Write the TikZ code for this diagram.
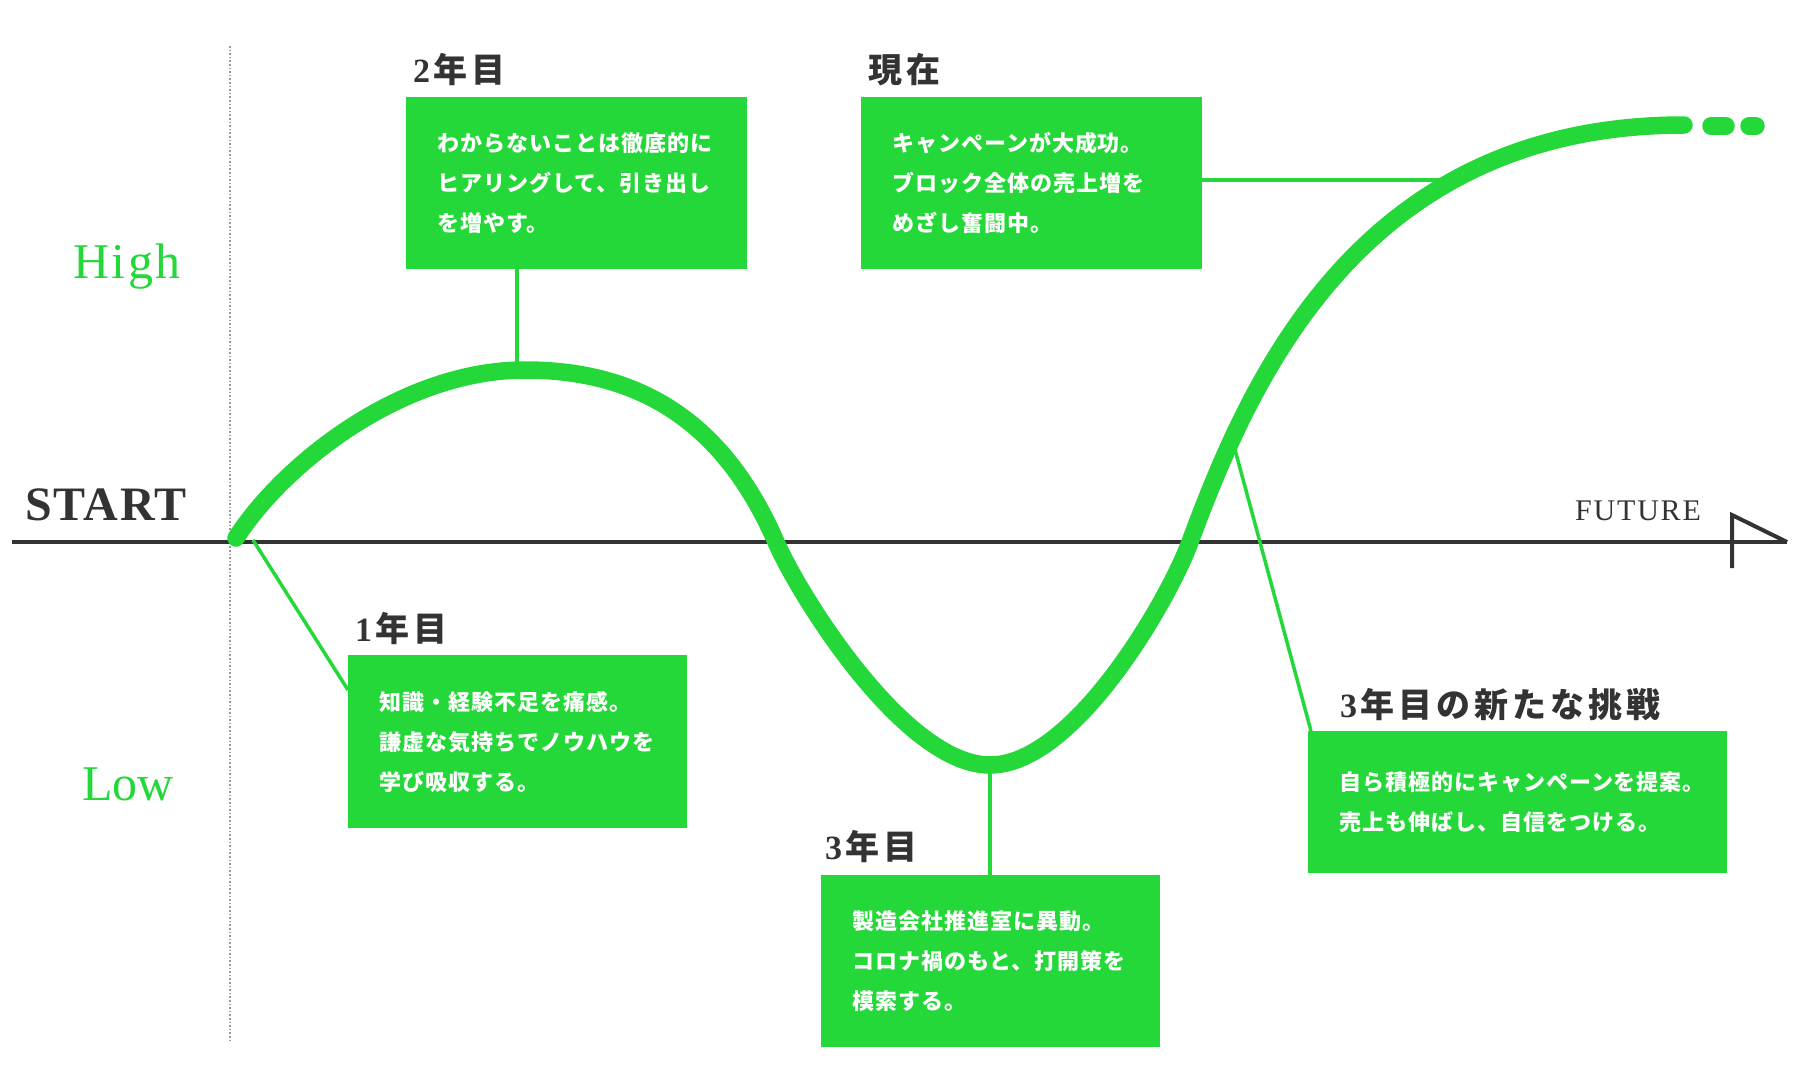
\documentclass[tikz,border=0pt]{standalone}
\usepackage{fontspec}
\usetikzlibrary{calc}
\setmainfont{Liberation Serif}
\newfontfamily\cjkbox[LetterSpace=4.5]{Noto Sans CJK JP}
\newfontfamily\cjklab[LetterSpace=12]{Noto Sans CJK JP}
\definecolor{grn}{RGB}{37,216,58}
\definecolor{ink}{RGB}{51,51,51}
\begin{document}
\begin{tikzpicture}[x=1pt,y=-1pt,
  box/.style={fill=grn, draw=none, anchor=north west, inner xsep=31pt, inner ysep=0pt,
    align=left, text=white, font=\cjkbox\bfseries\fontsize{22}{40}\selectfont},
  lab/.style={anchor=base west, inner sep=0pt, text=ink, font=\cjklab\bfseries\fontsize{34}{34}\selectfont},
  conn/.style={draw=grn, line width=3.5pt},
  curve/.style={draw=grn, line width=17.5pt, line cap=round, line join=round},
  axisline/.style={draw=ink, line width=4pt},
  side/.style={anchor=base west, inner sep=0pt}]
\useasboundingbox (0,0) rectangle (1802,1076);

% dotted start line
\coordinate (dtop) at (230,46);
\coordinate (dbot) at (230,1043);
\draw[gray!80, dotted, line width=1.6pt] (dtop) -- (dbot);

% axis
\coordinate (axL) at (12,542);
\coordinate (axR) at (1787,542);
\coordinate (arB) at (1732,568);
\coordinate (arT) at (1732,515);
\draw[axisline] (axL) -- (axR);
\draw[axisline, line join=miter] (arB) -- (arT) -- (axR);

% side texts
\node[side, text=ink, font=\bfseries\fontsize{48}{48}\selectfont\addfontfeature{LetterSpace=3.5}] (start) at (25,520) {START};
\node[side, text=grn, font=\fontsize{50}{50}\selectfont\addfontfeature{LetterSpace=5}] (high) at (73,278) {High};
\node[side, text=grn, font=\fontsize{50}{50}\selectfont] (low) at (82,800) {Low};
\node[side, text=ink, font=\fontsize{30}{30}\selectfont\addfontfeature{LetterSpace=6}] (future) at (1575,520) {FUTURE};

% boxes
\node[box, text width=279pt, minimum height=172pt] (b2) at (406,97)
  {わからないことは徹底的に\\ヒアリングして、引き出し\\を増やす。};
\node[box, text width=279pt, minimum height=172pt] (bnow) at (861,97)
  {キャンペーンが大成功。\\ブロック全体の売上増を\\めざし奮闘中。};
\node[box, text width=277pt, minimum height=173pt] (b1) at (348,655)
  {知識・経験不足を痛感。\\謙虚な気持ちでノウハウを\\学び吸収する。};
\node[box, text width=277pt, minimum height=172pt] (b3) at (821,875)
  {製造会社推進室に異動。\\コロナ禍のもと、打開策を\\模索する。};
\node[box, text width=357pt, minimum height=142pt] (bch) at (1308,731)
  {自ら積極的にキャンペーンを提案。\\売上も伸ばし、自信をつける。};

% labels
\node[lab] (l2) at (413,82) {{\rmfamily\bfseries 2}\hspace{3pt}年目};
\node[lab] (lnow) at (868,82) {現在};
\node[lab] (l1) at (355,641) {{\rmfamily\bfseries 1}\hspace{3pt}年目};
\node[lab] (l3) at (825,859) {{\rmfamily\bfseries 3}\hspace{3pt}年目};
\node[lab] (lch) at (1340,717) {{\rmfamily\bfseries 3}\hspace{3pt}年目の新たな挑戦};

% key points of the curve
\coordinate (c0) at (236,538);
\coordinate (cpk) at (525,370);
\coordinate (cx1) at (776,542);
\coordinate (ctr) at (990,765);
\coordinate (cx2) at (1190,542);
\coordinate (cend) at (1684,125);

% connector anchor points on the curve
\coordinate (p2) at (517,372);
\coordinate (pnow) at (1448,180);
\coordinate (p1) at (253,540);
\coordinate (p3) at (990,764);
\coordinate (pch) at (1234,446);

\draw[conn] (p2) -- (p2 |- b2.south);
\draw[conn] (bnow.east |- pnow) -- (pnow);
\draw[conn] (p1) -- ($(b1.north west)+(0,35)$);
\draw[conn] (p3) -- (p3 |- b3.north);
\draw[conn] (pch) -- ($(bch.north west)+(3,0)$);

% curve
\draw[curve] (c0) .. controls (282,466) and (400,370) .. (cpk)
  .. controls (650,370) and (728,432) .. (cx1)
  .. controls (800,597) and (905,765) .. (ctr)
  .. controls (1075,765) and (1170,597) .. (cx2)
  .. controls (1250,380) and (1360,125) .. (cend);
\coordinate (d1a) at (1711,126);
\coordinate (d1b) at (1726,126);
\coordinate (d2a) at (1749,126);
\coordinate (d2b) at (1756,126);
\draw[curve] (d1a) -- (d1b);
\draw[curve] (d2a) -- (d2b);
\end{tikzpicture}
\end{document}
